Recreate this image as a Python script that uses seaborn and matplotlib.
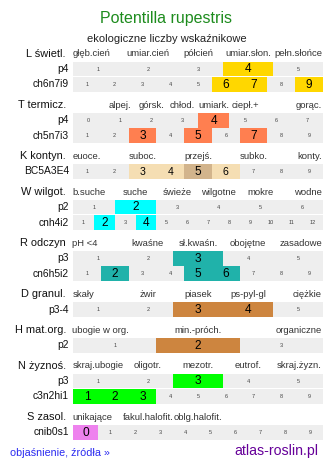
import matplotlib
matplotlib.use("Agg")
import matplotlib.pyplot as plt
import seaborn as sns

# ---------------- data ----------------
TITLE = "Potentilla rupestris"
SUBTITLE = "ekologiczne liczby wskaźnikowe"
FOOT_LEFT = "objaśnienie, źródła »"
FOOT_RIGHT = "atlas-roslin.pl"

L_name = "L świetl."
L_cats = ["głęb.cień", "umiar.cień", "półcień", "umiar.słon.", "pełn.słońce"]
L_cat_slots = [0, 1, 2, 3, 4]
L_cat_n = 5
L_rows = ["p4", "ch6n7i9"]
L_cells = [[1, 2, 3, 4, 5], [1, 2, 3, 4, 5, 6, 7, 8, 9]]
L_high = [[4], [6, 7, 9]]

T_name = "T termicz."
T_cats = ["alpej.", "górsk.", "chłod.", "umiark.", "ciepł.+", "gorąc."]
T_cat_slots = [1, 2, 3, 4, 5, 7]
T_cat_n = 8
T_rows = ["p4", "ch5n7i3"]
T_cells = [[0, 1, 2, 3, 4, 5, 6, 7], [1, 2, 3, 4, 5, 6, 7, 8, 9]]
T_high = [[4], [3, 5, 7]]

K_name = "K kontyn."
K_cats = ["euoce.", "suboc.", "przejś.", "subko.", "konty."]
K_cat_slots = [0, 2, 4, 6, 8]
K_cat_n = 9
K_rows = ["BC5A3E4"]
K_cells = [[1, 2, 3, 4, 5, 6, 7, 8, 9]]
K_high = [[3, 4, 5, 6]]
K_strong = [5]

W_name = "W wilgot."
W_cats = ["b.suche", "suche", "świeże", "wilgotne", "mokre", "wodne"]
W_cat_slots = [0, 1, 2, 3, 4, 5]
W_cat_n = 6
W_rows = ["p2", "cnh4i2"]
W_cells = [[1, 2, 3, 4, 5, 6], [1, 2, 3, 4, 5, 6, 7, 8, 9, 10, 11, 12]]
W_high = [[2], [2, 4]]

R_name = "R odczyn"
R_cats = ["pH <4", "kwaśne", "sł.kwaśn.", "obojętne", "zasadowe"]
R_cat_slots = [0, 1, 2, 3, 4]
R_cat_n = 5
R_rows = ["p3", "cn6h5i2"]
R_cells = [[1, 2, 3, 4, 5], [1, 2, 3, 4, 5, 6, 7, 8, 9]]
R_high = [[3], [2, 5, 6]]

D_name = "D granul."
D_cats = ["skały", "żwir", "piasek", "ps-pyl-gl", "ciężkie"]
D_cat_slots = [0, 1, 2, 3, 4]
D_cat_n = 5
D_rows = ["p3-4"]
D_cells = [[1, 2, 3, 4, 5]]
D_high = [[3, 4]]

H_name = "H mat.org."
H_cats = ["ubogie w org.", "min.-próch.", "organiczne"]
H_cat_slots = [0, 1, 2]
H_cat_n = 3
H_rows = ["p2"]
H_cells = [[1, 2, 3]]
H_high = [[2]]

N_name = "N żyznoś."
N_cats = ["skraj.ubogie", "oligotr.", "mezotr.", "eutrof.", "skraj.żyzn."]
N_cat_slots = [0, 1, 2, 3, 4]
N_cat_n = 5
N_rows = ["p3", "c3n2hi1"]
N_cells = [[1, 2, 3, 4, 5], [1, 2, 3, 4, 5, 6, 7, 8, 9]]
N_high = [[3], [1, 2, 3]]

S_name = "S zasol."
S_cats = ["unikające", "fakul.halofit.", "oblg.halofit."]
S_cat_slots = [0, 1, 2]
S_cat_n = 5
S_rows = ["cnib0s1"]
S_cells = [[0, 1, 2, 3, 4, 5, 6, 7, 8, 9]]
S_high = [[0]]

# ---------------- styles ----------------
COLORS = {"L": "#ffd700", "T": "#ff7f50", "K": "#f5deb3", "W": "#00ffff",
          "R": "#20b2aa", "D": "#cd853f", "H": "#cd853f", "N": "#00ff00",
          "S": "#ee82ee"}
K_STRONG_COLOR = "#d2b48c"
GRAY = "#eeeeee"

sections = [
    ("L", L_name, L_cats, L_cat_slots, L_cat_n, L_rows, L_cells, L_high),
    ("T", T_name, T_cats, T_cat_slots, T_cat_n, T_rows, T_cells, T_high),
    ("K", K_name, K_cats, K_cat_slots, K_cat_n, K_rows, K_cells, K_high),
    ("W", W_name, W_cats, W_cat_slots, W_cat_n, W_rows, W_cells, W_high),
    ("R", R_name, R_cats, R_cat_slots, R_cat_n, R_rows, R_cells, R_high),
    ("D", D_name, D_cats, D_cat_slots, D_cat_n, D_rows, D_cells, D_high),
    ("H", H_name, H_cats, H_cat_slots, H_cat_n, H_rows, H_cells, H_high),
    ("N", N_name, N_cats, N_cat_slots, N_cat_n, N_rows, N_cells, N_high),
    ("S", S_name, S_cats, S_cat_slots, S_cat_n, S_rows, S_cells, S_high),
]

sns.set_theme(style="white")
plt.rcParams["font.family"] = ["Liberation Sans", "DejaVu Sans"]

W_PX, H_PX = 334, 469
fig = plt.figure(figsize=(W_PX / 100, H_PX / 100), dpi=100)
ax = fig.add_axes([0, 0, 1, 1])
ax.set_xlim(0, W_PX)
ax.set_ylim(H_PX, 0)
ax.axis("off")

X0, GW = 73.0, 250.0
BAR_H = 14.6
CAT_FS = 6.8

ax.text(166.5, 19, TITLE, ha="center", va="center", fontsize=11.5, color="#1e8c1e")
ax.text(167, 38.5, SUBTITLE, ha="center", va="center", fontsize=8.0, color="#222222")

y = 54.0
for key, name, cats, slots, ncat, rows, cells, high in sections:
    ax.text(66, y, name, ha="right", va="center", fontsize=7.9, color="#111111")
    for c, s in zip(cats, slots):
        if s == 0:
            ax.text(X0 - 0.5, y, c, ha="left", va="center", fontsize=CAT_FS, color="#333333")
        elif s == ncat - 1:
            ax.text(X0 + GW - 1, y, c, ha="right", va="center", fontsize=CAT_FS, color="#333333")
        else:
            ax.text(X0 + GW * (s + 0.5) / ncat, y, c, ha="center", va="center",
                    fontsize=CAT_FS, color="#333333")
    ry = y + 15.07
    for rname, vals, hv in zip(rows, cells, high):
        n = len(vals)
        cw = GW / n
        lefts = [X0 + i * cw for i in range(n)]
        cols = []
        for v in vals:
            if v in hv:
                if key == "K" and v in K_strong:
                    cols.append(K_STRONG_COLOR)
                else:
                    cols.append(COLORS[key])
            else:
                cols.append(GRAY)
        ax.barh([ry] * n, [cw + 0.3] * n, left=lefts, height=BAR_H, color=cols,
                edgecolor="none", linewidth=0)
        ax.text(69, ry, rname, ha="right", va="center", fontsize=7.4, color="#111111")
        for v, lft in zip(vals, lefts):
            if v in hv:
                fs = 8.6
                if key == "K" and v not in K_strong:
                    fs = 7.6
                ax.text(lft + cw / 2, ry + 0.3, str(v), ha="center", va="center",
                        fontsize=fs, color="#000000")
            else:
                ax.text(lft + cw / 2, ry, str(v), ha="center", va="center",
                        fontsize=4.0, color="#444444")
        last = ry
        ry += 15.4
    y = last + 20.7

ax.text(10, 453.5, FOOT_LEFT, ha="left", va="center", fontsize=7.75, color="#2a2af0")
ax.text(318.5, 451, FOOT_RIGHT, ha="right", va="center", fontsize=10.2, color="#660099")

fig.savefig("out.png", dpi=100)
